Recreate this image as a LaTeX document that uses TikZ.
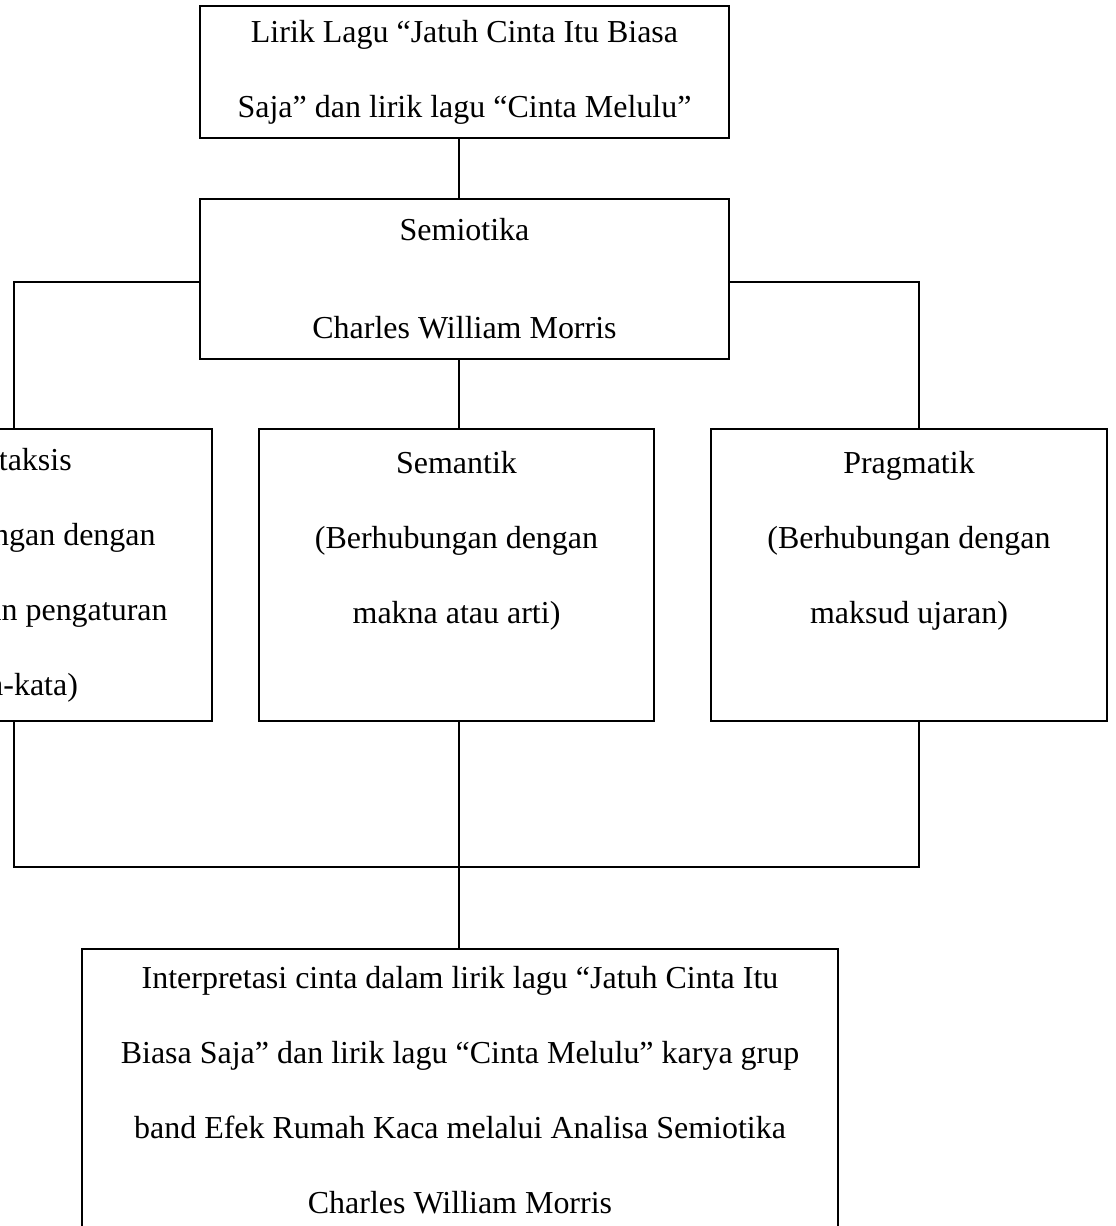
\documentclass[tikz,border=0pt]{standalone}
\usepackage{fontspec}
\setmainfont{Liberation Serif}

\begin{document}
\begin{tikzpicture}[
        x=0.02cm, y=-0.02cm, % one unit = one pixel of the page
        line width=1.2pt, % Line styling
        every node/.style={draw, align=center, inner sep=0pt,
            font=\fontsize{18.2}{42.7}\selectfont} % Box styling
        ]
        \useasboundingbox (0,0) rectangle (1115,1226);
        \clip (0,0) rectangle (1115,1226);

        % Define nodes
        \node (Lirik) [minimum width=10.58cm, minimum height=2.64cm] at (464.5,72)
            {Lirik Lagu “Jatuh Cinta Itu Biasa\\Saja” dan lirik lagu “Cinta Melulu”};
        \node (Semiotika) [minimum width=10.58cm, minimum height=3.2cm] at (464.5,279)
            {Semiotika\\[13pt]Charles William Morris};
        \node (Sintaksis) [minimum width=7.92cm, minimum height=5.84cm] at (14,575)
            {Sintaksis\\(Berhubungan dengan\\susunan dan pengaturan\\kata-kata)};
        \node (Semantik) [minimum width=7.9cm, minimum height=5.84cm] at (456.5,575)
            {Semantik\\(Berhubungan dengan\\makna atau arti)\\~};
        \node (Pragmatik) [minimum width=7.92cm, minimum height=5.84cm] at (909,575)
            {Pragmatik\\(Berhubungan dengan\\maksud ujaran)\\~};
        \node (Interpretasi) [minimum width=15.12cm, minimum height=5.64cm] at (460,1090)
            {Interpretasi cinta dalam lirik lagu “Jatuh Cinta Itu\\Biasa Saja” dan lirik lagu “Cinta Melulu” karya grup\\band Efek Rumah Kaca melalui Analisa Semiotika\\Charles William Morris};
        \coordinate (Gabung) at (459,867);

        % Draw lines
        \draw (Gabung |- Lirik.south) -- (Gabung |- Semiotika.north);
        \draw ([yshift=-0.06cm] Semiotika.west) -| (Sintaksis.north);
        \draw (Gabung |- Semiotika.south) -- (Gabung |- Semantik.north);
        \draw ([yshift=-0.06cm] Semiotika.east) -| ([xshift=0.2cm] Pragmatik.north);

        % Draw lines to the result
        \draw (Sintaksis.south) |- (Gabung) -| ([xshift=0.2cm] Pragmatik.south);
        \draw (Gabung |- Semantik.south) -- (Gabung |- Interpretasi.north);

    \end{tikzpicture}
\end{document}
